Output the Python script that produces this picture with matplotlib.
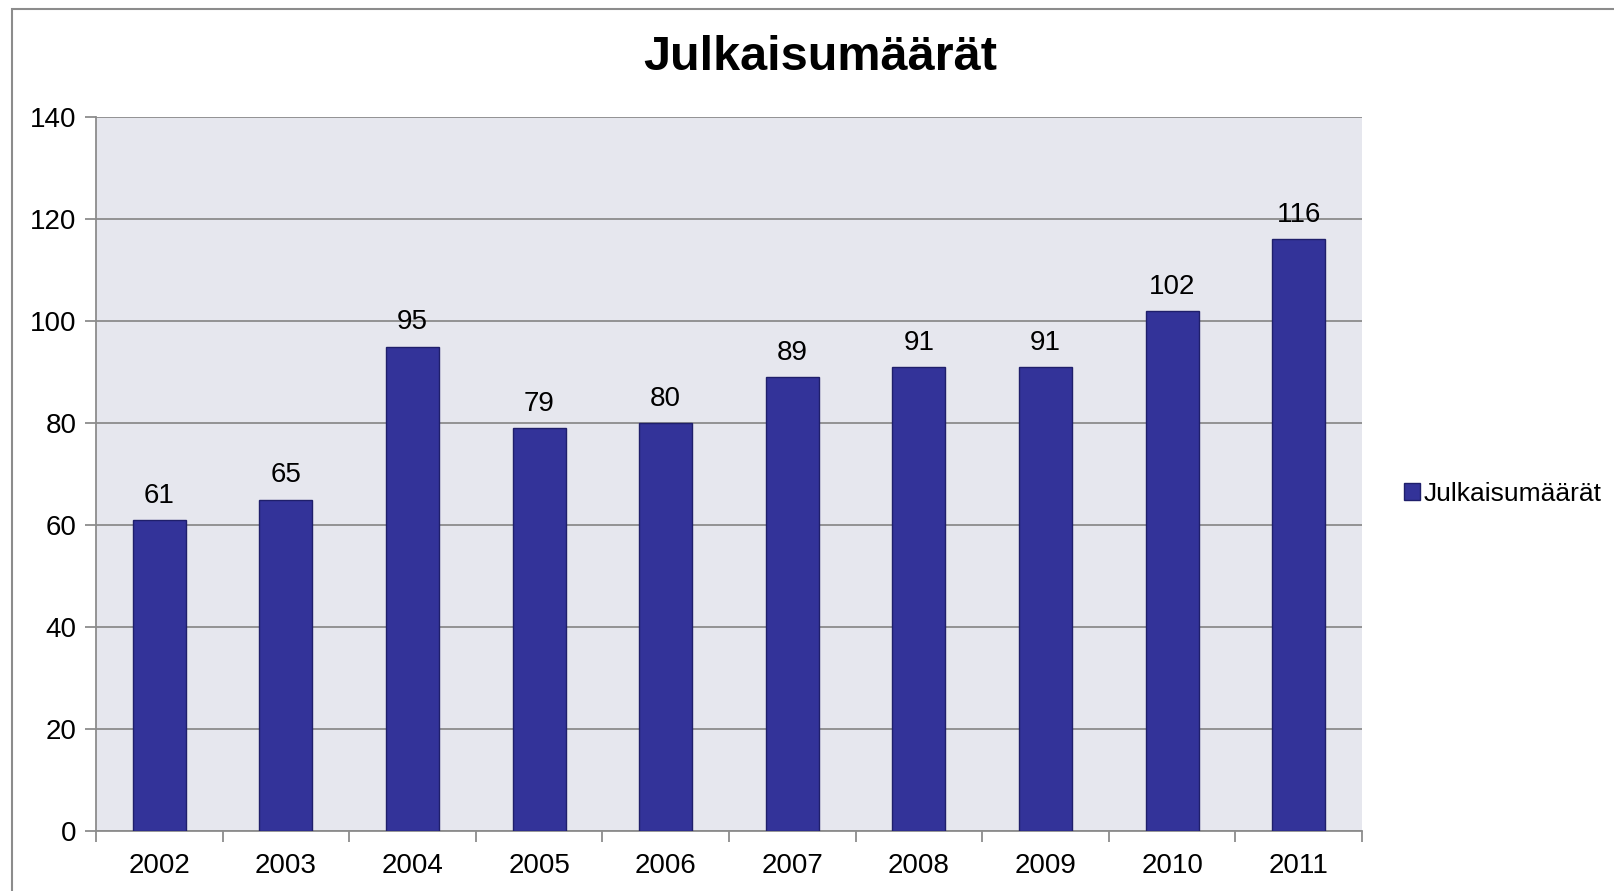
import matplotlib.pyplot as plt
from matplotlib.patches import Rectangle

# Data
years = ["2002", "2003", "2004", "2005", "2006", "2007", "2008", "2009", "2010", "2011"]
counts = [61, 65, 95, 79, 80, 89, 91, 91, 102, 116]
series_name = "Julkaisumäärät"

plt.rcParams['font.family'] = ['Liberation Sans', 'DejaVu Sans']

W, H = 1614, 891
fig = plt.figure(figsize=(W / 100, H / 100), dpi=100)

# plot area in pixels: left 96, top 117, right 1362, bottom 831
ax = fig.add_axes([96 / W, 1 - 831 / H, (1362 - 96) / W, (831 - 117) / H])
ax.set_facecolor("#E6E7EE")

x = list(range(len(years)))
bars = ax.bar(x, counts, width=0.42, color="#333399", edgecolor="#1F1F6B",
              linewidth=1.0, zorder=3, label=series_name)

for xi, v in zip(x, counts):
    ax.annotate(str(v), (xi, v), xytext=(0, 8), textcoords="offset points",
                ha="center", va="bottom", fontsize=20, zorder=4)

ax.set_xlim(-0.5, len(years) - 0.5)
ax.set_ylim(0, 140)
ax.set_yticks(range(0, 141, 20))
ax.yaxis.grid(True, color="#8C8C8C", linewidth=1.3, zorder=1)
ax.set_axisbelow(True)

# category labels centered, ticks between categories
ax.set_xticks(x)
ax.set_xticklabels(years, fontsize=20)
ax.set_xticks([i - 0.5 for i in range(len(years) + 1)], minor=True)
ax.tick_params(axis="x", which="major", length=0, pad=16)
ax.tick_params(axis="x", which="minor", length=8, width=1.3, color="#8C8C8C")
ax.tick_params(axis="y", length=8, width=1.3, color="#8C8C8C", labelsize=20, pad=6)

for side in ["top", "right"]:
    ax.spines[side].set_visible(False)
for side in ["left", "bottom"]:
    ax.spines[side].set_color("#8C8C8C")
    ax.spines[side].set_linewidth(1.3)

fig.text(820 / W, 1 - 58 / H, series_name, ha="center", va="center",
         fontsize=35, fontweight="bold")

# legend
ax.legend(loc="center left", bbox_to_anchor=(1.0, 0.472), frameon=False, fontsize=19,
          handlelength=0.6, handleheight=0.6, handletextpad=0.15, borderaxespad=1.2)

# outer chart border
fig.patches.append(Rectangle((12 / W, -0.1), 1.2, 1.1 - 9 / H, transform=fig.transFigure,
                             fill=False, edgecolor="#8C8C8C", linewidth=1.5))

fig.savefig("out.png", dpi=100)
